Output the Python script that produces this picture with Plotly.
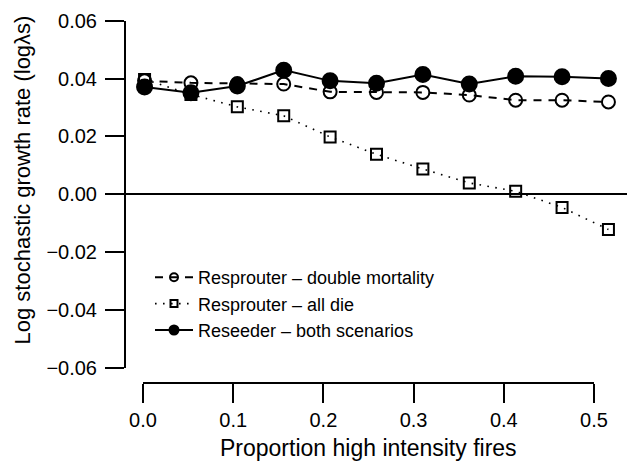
import plotly.graph_objects as go

# ---- data ----
proportion = [0.0, 0.05, 0.10, 0.15, 0.20, 0.25, 0.30, 0.35, 0.40, 0.45, 0.50]
resprouter_double = [0.0392, 0.0385, 0.0383, 0.0381, 0.0354, 0.0352, 0.0352, 0.0343, 0.0325, 0.0325, 0.0319]
resprouter_alldie = [0.0397, 0.0345, 0.0302, 0.0271, 0.0198, 0.0138, 0.0087, 0.0039, 0.0010, -0.0046, -0.0122]
reseeder_both = [0.0371, 0.0351, 0.0374, 0.0429, 0.0392, 0.0384, 0.0414, 0.0381, 0.0408, 0.0406, 0.0400]

x_ticks = [0.0, 0.1, 0.2, 0.3, 0.4, 0.5]
x_ticktext = ["0.0", "0.1", "0.2", "0.3", "0.4", "0.5"]
y_ticks = [-0.06, -0.04, -0.02, 0.0, 0.02, 0.04, 0.06]
y_ticktext = ["\u22120.06", "\u22120.04", "\u22120.02", "0.00", "0.02", "0.04", "0.06"]

names = ["Resprouter \u2013 double mortality", "Resprouter \u2013 all die", "Reseeder \u2013 both scenarios"]

W, H = 627, 463
FONT = "Liberation Sans, Arial, Helvetica, sans-serif"


def fx(p):
    return p / W


def fy(p):
    return 1 - p / H


fig = go.Figure()

styles = [
    dict(dash="8px,7px", width=2, symbol="circle-open", size=13, lsize=8),
    dict(dash="1.6px,6.4px", width=1.6, symbol="square-open", size=11, lsize=7),
    dict(dash="solid", width=2, symbol="circle", size=15, lsize=9),
]
series = [resprouter_double, resprouter_alldie, reseeder_both]

for vals, st, nm in zip(series, styles, names):
    fig.add_trace(go.Scatter(
        x=proportion, y=vals, mode="lines+markers", name=nm, showlegend=False,
        line=dict(color="black", width=st["width"], dash=st["dash"]),
        marker=dict(symbol=st["symbol"], size=st["size"], color="black", line=dict(color="black", width=2)),
        xaxis="x", yaxis="y", cliponaxis=False,
    ))

# legend entries
for st, nm in zip(styles, names):
    fig.add_trace(go.Scatter(
        x=[None], y=[None], mode="lines+markers", name=nm, showlegend=True,
        line=dict(color="black", width=st["width"], dash=st["dash"]),
        marker=dict(symbol=st["symbol"], size=st["lsize"], color="black", line=dict(color="black", width=2)),
        xaxis="x", yaxis="y",
    ))

# carrier trace for the labelled proportion axis
fig.add_trace(go.Scatter(x=[None], y=[None], xaxis="x2", yaxis="y2", showlegend=False, hoverinfo="skip"))

fig.update_layout(
    template="none",
    width=W, height=H,
    margin=dict(l=0, r=0, t=0, b=0, pad=0),
    paper_bgcolor="white", plot_bgcolor="white",
    font=dict(family=FONT, color="black"),
    showlegend=True,
    legend=dict(
        x=fx(150), y=fy(259), xanchor="left", yanchor="top",
        font=dict(size=18, family=FONT, color="black"),
        bgcolor="rgba(0,0,0,0)", itemwidth=38, tracegroupgap=0,
    ),
    xaxis=dict(
        domain=[fx(126), 1.0], range=[-0.02, 0.52], visible=False, anchor="y", automargin=False,
    ),
    yaxis=dict(
        domain=[fy(367.7), fy(20.7)], range=[-0.06, 0.06], anchor="x", automargin=False,
        tickvals=y_ticks, ticktext=y_ticktext,
        ticks="outside", ticklen=19, tickwidth=2, tickcolor="black",
        showline=True, linecolor="black", linewidth=2,
        showgrid=False, zeroline=True, zerolinecolor="black", zerolinewidth=2,
        tickfont=dict(size=20, family=FONT, color="black"), ticklabelstandoff=4,
    ),
    xaxis2=dict(
        domain=[fx(143), fx(594)], range=[0, 0.5], anchor="free", position=fy(383), automargin=False,
        tickvals=x_ticks, ticktext=x_ticktext,
        ticks="outside", ticklen=19, tickwidth=2, tickcolor="black",
        showline=True, linecolor="black", linewidth=2,
        showgrid=False, zeroline=False,
        tickfont=dict(size=20, family=FONT, color="black"),
    ),
    yaxis2=dict(domain=[fy(383), fy(380)], visible=False, anchor="x2", automargin=False),
    annotations=[
        dict(text="Proportion high intensity fires", x=fx(368.5), y=fy(448), xref="paper", yref="paper",
             xanchor="center", yanchor="middle", showarrow=False,
             font=dict(size=23, family=FONT, color="black")),
        dict(text="Log stochastic growth rate (log\u03bbs)", x=fx(21.5), y=fy(180), xref="paper", yref="paper",
             xanchor="center", yanchor="middle", showarrow=False, textangle=-90,
             font=dict(size=22, family=FONT, color="black")),
    ],
)

fig.write_html(
    "out.html",
    config={"displayModeBar": False},
    post_script="document.body.style.margin='0';document.body.style.padding='0';document.body.style.overflow='hidden';",
)
